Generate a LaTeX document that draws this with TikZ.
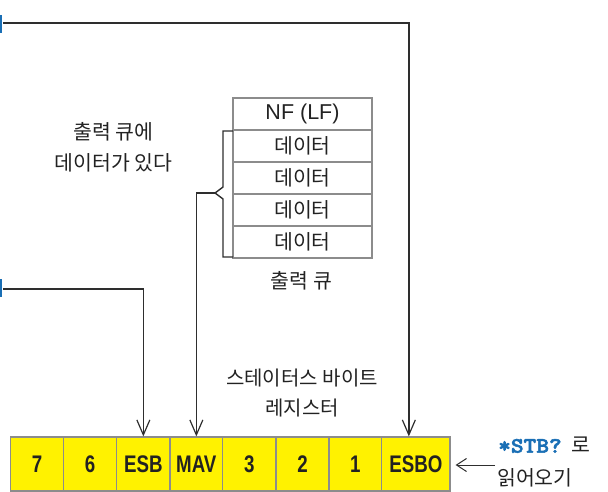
\documentclass[tikz,border=0pt]{standalone}
\usepackage{fontspec}
\setmainfont{Liberation Sans}
\newfontfamily\kr{Noto Sans CJK KR}
\newfontfamily\condfont[FakeStretch=0.78]{Liberation Sans}
\newfontfamily\monob[FakeBold=2.5,FakeStretch=1.1]{lmmonolt10-bold.otf}
\usetikzlibrary{arrows.meta}
\definecolor{regyellow}{HTML}{FFF200}
\definecolor{edgegray}{HTML}{8C8C8C}
\definecolor{stbblue}{HTML}{1A6FB5}
\definecolor{linegray}{HTML}{2E2E2E}
\definecolor{txt}{HTML}{222222}
\begin{document}
\begin{tikzpicture}[x=1pt,y=-1pt,
  cell/.style={draw=edgegray, line width=1.2pt, fill=regyellow, minimum height=54pt, inner sep=0pt,
    font=\condfont\bfseries\fontsize{24}{24}\selectfont, text=txt},
  qcell/.style={draw=edgegray, line width=1.2pt, minimum width=139pt, minimum height=32pt, inner sep=0pt,
    font=\kr\fontsize{20.5}{20.5}\selectfont, text=txt},
  lbl/.style={font=\kr\fontsize{20.5}{24}\selectfont, align=center, inner sep=0pt, text=txt},
  conn/.style={draw=linegray, line width=1.5pt, -{Straight Barb[length=15pt,width=13pt,line width=1.2pt]}},
  plain/.style={draw=linegray, line width=1.5pt}
]
\useasboundingbox (0,0) rectangle (608,492);
% partial blue marks at left edge
\fill[stbblue] (0,15) rectangle (2,33);
\fill[stbblue] (0,279) rectangle (2,297);
% status byte register
\node[cell, minimum width=52.6pt] (b7) at (37.0,464) {7};
\node[cell, minimum width=53.4pt] (b6) at (90.0,464) {6};
\node[cell, minimum width=53.3pt] (esb) at (143.35,464) {ESB};
\node[cell, minimum width=52.7pt] (mav) at (196.35,464) {MAV};
\node[cell, minimum width=53.3pt] (b3) at (249.35,464) {3};
\node[cell, minimum width=53pt] (b2) at (302.5,464) {2};
\node[cell, minimum width=52.7pt] (b1) at (355.35,464) {1};
\node[cell, minimum width=68.3pt] (esbo) at (415.85,464) {ESBO};
% output queue
\node[qcell, font=\fontsize{21.5}{21.5}\selectfont] (nf) at (302.5,114) {NF (LF)};
\node[qcell] (d1) at (302.5,146) {데이터};
\node[qcell] (d2) at (302.5,178) {데이터};
\node[qcell] (d3) at (302.5,210) {데이터};
\node[qcell] (d4) at (302.5,242) {데이터};
\node[lbl] (qname) at (301.5,281) {출력 큐};
% texts
\node[lbl, align=center] (qtext) at (113.5,147.5) {출력 큐에\\[7pt]데이터가 있다};
\node[lbl, font=\kr\fontsize{20}{24}\selectfont, align=center] (sbr) at (302,393) {스테이터스 바이트\\[6pt]레지스터};
\node[anchor=west, inner sep=0pt] (stb) at (498,445) {\monob\fontsize{22}{22}\selectfont\color{stbblue}*STB?\kern10pt\kr\color{txt}\fontsize{20.5}{20.5}\selectfont 로};
\node[lbl, anchor=west] (read) at (497,478) {읽어오기};
% bracket
\coordinate (tip) at (215,193);
\draw[plain, line width=1.4pt] (233,131) -- (223,131) -- (223,187) -- (tip) -- (223,199) -- (223,257) -- (233,257);
% connectors
\coordinate (top) at (3,23);
\coordinate (mid) at (3,289);
\draw[conn] (top) -| ([xshift=-7pt]esbo.north);
\draw[conn] (mid) -| (esb.north);
\draw[conn] (tip) -| (mav.north);
\coordinate (stbstart) at (495,465);
\draw[draw=linegray, line width=1pt, -{Straight Barb[length=10pt,width=13pt]}] (stbstart) -- ([xshift=5pt]esbo.east |- stbstart);
\end{tikzpicture}
\end{document}
